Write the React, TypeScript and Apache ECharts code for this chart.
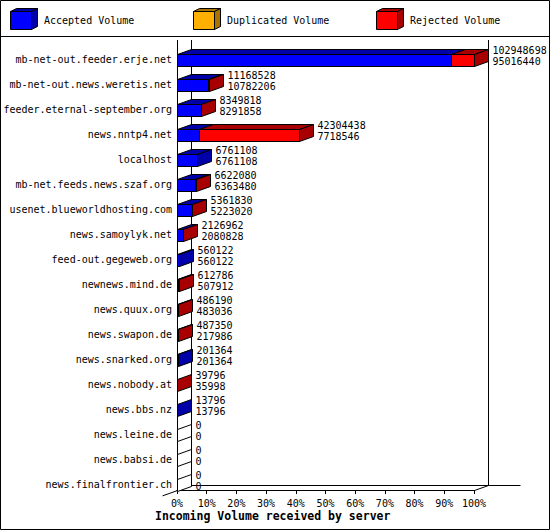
import React, { useEffect, useRef } from "react";
import * as echarts from "echarts";

const categories = [
  "mb-net-out.feeder.erje.net",
  "mb-net-out.news.weretis.net",
  "feeder.eternal-september.org",
  "news.nntp4.net",
  "localhost",
  "mb-net.feeds.news.szaf.org",
  "usenet.blueworldhosting.com",
  "news.samoylyk.net",
  "feed-out.gegeweb.org",
  "newnews.mind.de",
  "news.quux.org",
  "news.swapon.de",
  "news.snarked.org",
  "news.nobody.at",
  "news.bbs.nz",
  "news.leine.de",
  "news.babsi.de",
  "news.finalfrontier.ch",
];
const totalVolume = [
  102948698, 11168528, 8349818, 42304438, 6761108, 6622080, 5361830, 2126962,
  560122, 612786, 486190, 487350, 201364, 39796, 13796, 0, 0, 0,
];
const acceptedVolume = [
  95016440, 10782206, 8291858, 7718546, 6761108, 6363480, 5223020, 2080828,
  560122, 507912, 483036, 217986, 201364, 35998, 13796, 0, 0, 0,
];
const legendNames = ["Accepted Volume", "Duplicated Volume", "Rejected Volume"];
const xTicks = [0, 10, 20, 30, 40, 50, 60, 70, 80, 90, 100];
const xTitle = "Incoming Volume received by server";

const FONT = '10px "DejaVu Sans Mono", "Liberation Mono", monospace';
const BLUE = "#0000ff";
const BLUE_D = "#0000a8";
const ORANGE = "#ffb000";
const ORANGE_D = "#a87400";
const RED = "#ff0000";
const RED_D = "#a80000";
const DX = 14;
const DY = -5;

const snap = (v: number) => Math.round(v) + 0.5;

export default function App() {
  const ref = useRef<HTMLDivElement>(null);
  useEffect(() => {
    if (!ref.current) return;
    const chart = echarts.init(ref.current, undefined, { renderer: "svg" });
    const maxTotal = Math.max(...totalVolume);
    const barData = categories.map((c, i) => [
      i,
      (acceptedVolume[i] / maxTotal) * 100,
      (totalVolume[i] / maxTotal) * 100,
      acceptedVolume[i],
      totalVolume[i],
    ]);

    const legendGraphics: any[] = [];
    const legendColors = [
      [BLUE, BLUE_D],
      [ORANGE, ORANGE_D],
      [RED, RED_D],
    ];
    legendNames.forEach((name, i) => {
      const x = 10.5 + i * 183;
      const y = 11.5;
      const w = 21;
      const h = 18;
      const [c, cd] = legendColors[i];
      legendGraphics.push(
        {
          type: "polygon",
          shape: { points: [[x, y], [x + w, y], [x + w + 6, y - 3], [x + 6, y - 3]] },
          style: { fill: cd, stroke: "#000", lineWidth: 1 },
        },
        {
          type: "polygon",
          shape: { points: [[x + w, y], [x + w + 6, y - 3], [x + w + 6, y + h - 3], [x + w, y + h]] },
          style: { fill: cd, stroke: "#000", lineWidth: 1 },
        },
        {
          type: "rect",
          shape: { x, y, width: w, height: h },
          style: { fill: c, stroke: "#000", lineWidth: 1 },
        },
        {
          type: "text",
          style: { text: name, x: x + 33.5, y: 20.5, font: FONT, fill: "#000", verticalAlign: "middle", align: "left" },
        }
      );
    });

    chart.setOption({
      animation: false,
      backgroundColor: "#fff",
      title: {
        text: xTitle,
        left: 155,
        top: 510,
        padding: 0,
        textStyle: { fontFamily: '"DejaVu Sans Mono", monospace', fontSize: 11.5, fontWeight: "bold", color: "#000" },
      },
      graphic: [
        {
          type: "rect",
          shape: { x: 0.5, y: 0.5, width: 549, height: 529 },
          style: { fill: "none", stroke: "#000", lineWidth: 1 },
          silent: true,
        },
        {
          type: "line",
          shape: { x1: 0, y1: 36.5, x2: 550, y2: 36.5 },
          style: { stroke: "#000", lineWidth: 1 },
        },
        ...legendGraphics,
      ],
      grid: { left: 177, right: 76, top: 47, bottom: 33, containLabel: false },
      xAxis: {
        type: "value",
        min: xTicks[0],
        max: xTicks[xTicks.length - 1],
        interval: 10,
        offset: -7,
        axisLine: { show: true, lineStyle: { color: "#000", width: 1 } },
        axisTick: { show: true, length: 4, lineStyle: { color: "#000" } },
        splitLine: { show: false },
        axisLabel: {
          formatter: "{value}%",
          fontFamily: '"DejaVu Sans Mono", monospace',
          fontSize: 10,
          color: "#000",
          margin: 8,
        },
      },
      yAxis: {
        type: "category",
        inverse: true,
        data: categories,
        axisLine: { show: false },
        axisTick: { show: false },
        splitLine: { show: false },
        axisLabel: {
          fontFamily: '"DejaVu Sans Mono", monospace',
          fontSize: 10,
          color: "#000",
          margin: 5,
        },
      },
      series: [
        {
          type: "custom",
          name: "frame",
          z: 1,
          clip: false,
          silent: true,
          data: [[0, 0]],
          encode: { x: 0, y: 1 },
          renderItem: (params: any, api: any) => {
            const cs = params.coordSys;
            const xl = snap(cs.x);
            const xr = snap(cs.x + cs.width);
            const yb = snap(cs.y + cs.height - 7);
            const yt = cs.y - 7;
            const L = (x1: number, y1: number, x2: number, y2: number) => ({
              type: "line",
              shape: { x1, y1, x2, y2 },
              style: { stroke: "#000", lineWidth: 1 },
            });
            return {
              type: "group",
              children: [
                L(xl, yt, xl, yb),
                L(xl + DX, yt, xl + DX, yb + DY),
                L(xr + DX, yt, xr + DX, yb + DY),
                L(xl + DX, yb + DY, xr + DX + 32, yb + DY),
                L(xl - DX - 1, yb - DY + 0.4, xl + DX, yb + DY),
                L(xr, yb, xr + DX, yb + DY),
              ],
            };
          },
        },
        {
          type: "custom",
          name: "Volume",
          z: 2,
          clip: false,
          data: barData,
          encode: { x: [1, 2], y: 0 },
          renderItem: (params: any, api: any) => {
            const i = api.value(0);
            const acc = api.value(3);
            const tot = api.value(4);
            const p0 = api.coord([0, i]);
            const yc = p0[1];
            const x0 = snap(p0[0]);
            const xa = snap(api.coord([api.value(1), i])[0]);
            const xt = snap(api.coord([api.value(2), i])[0]);
            const half = api.size([0, 1])[1] * 0.24;
            const yt = snap(yc - half);
            const yb = snap(yc + half);
            const children: any[] = [];
            const poly = (pts: number[][], fill: string) => ({
              type: "polygon",
              shape: { points: pts },
              style: { fill, stroke: "#000", lineWidth: 1 },
            });
            const seg = (a: number, b: number, c: string, cd: string) => {
              if (b <= a) return;
              children.push(poly([[a, yt], [b, yt], [b + DX, yt + DY], [a + DX, yt + DY]], cd));
              children.push(poly([[a, yt], [b, yt], [b, yb], [a, yb]], c));
            };
            seg(x0, xa, BLUE, BLUE_D);
            seg(xa, xt, RED, RED_D);
            const sideColor = tot - acc > 0 ? RED_D : acc > 0 ? BLUE_D : "#fff";
            children.push(poly([[xt, yt], [xt + DX, yt + DY], [xt + DX, yb + DY], [xt, yb]], sideColor));
            const tx = xt + DX + 4;
            children.push({
              type: "text",
              style: { text: String(tot), x: tx, y: yc - 9.5, font: FONT, fill: "#000", align: "left", verticalAlign: "middle" },
            });
            children.push({
              type: "text",
              style: { text: String(acc), x: tx, y: yc + 1.5, font: FONT, fill: "#000", align: "left", verticalAlign: "middle" },
            });
            return { type: "group", children };
          },
        },
      ],
    });
    return () => chart.dispose();
  }, []);
  return (
    <div
      ref={ref}
      style={{ position: "absolute", left: 0, top: 0, width: 550, height: 530 }}
    />
  );
}
